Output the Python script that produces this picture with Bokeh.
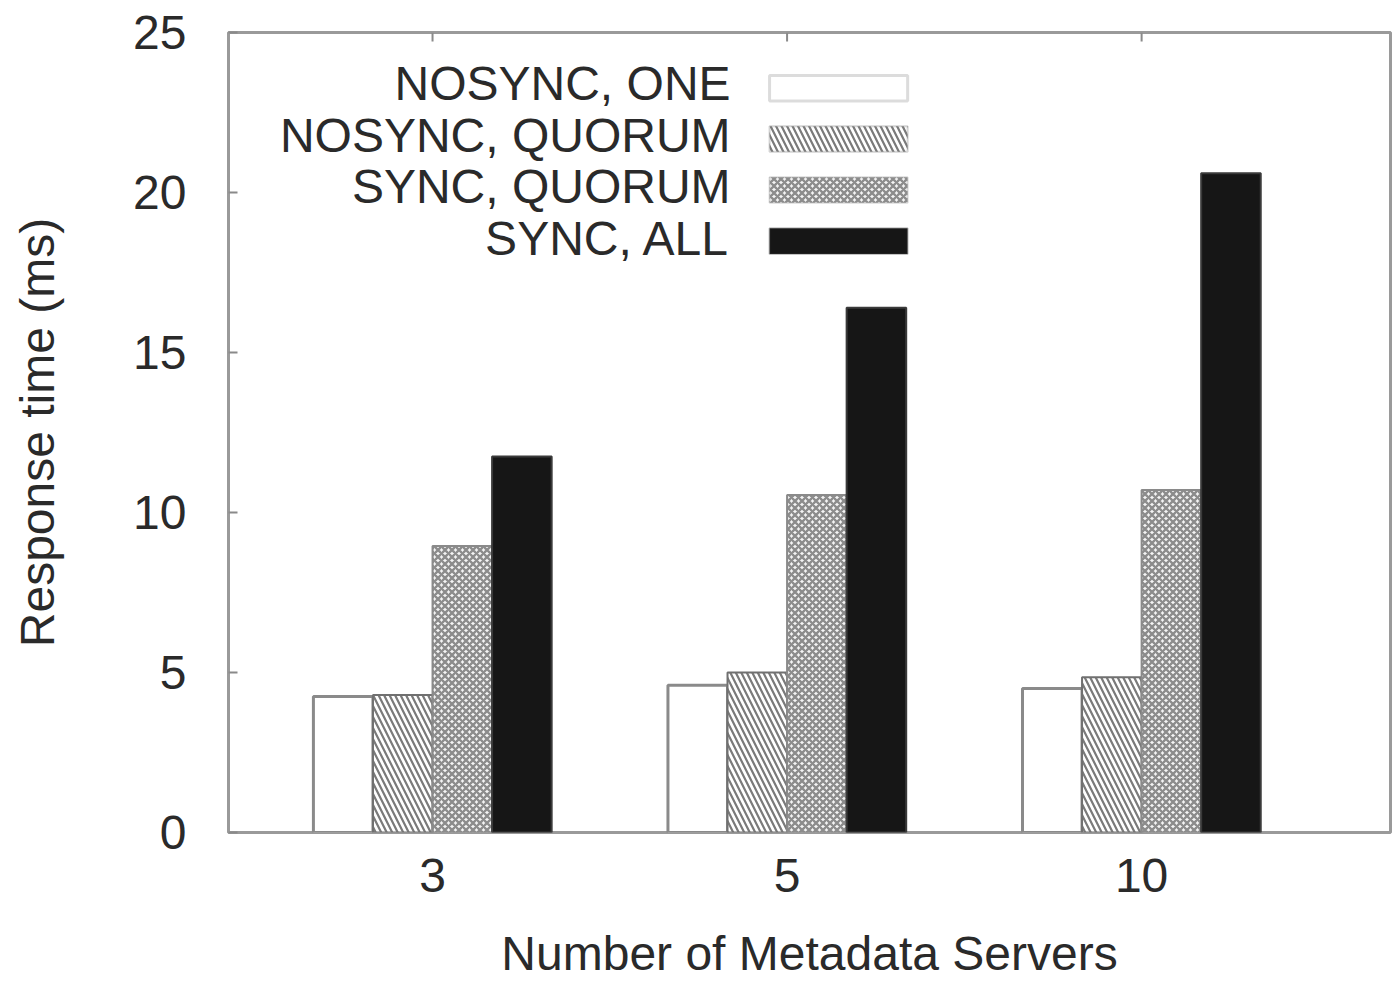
from bokeh.plotting import figure
from bokeh.models import Range1d, FixedTicker, Label, BoxAnnotation
from bokeh.embed import file_html
from bokeh.resources import INLINE

# ---- data ----
servers = ["3", "5", "10"]
series_names = ["NOSYNC, ONE", "NOSYNC, QUORUM", "SYNC, QUORUM", "SYNC, ALL"]
nosync_one = [4.25, 4.6, 4.5]
nosync_quorum = [4.3, 5.0, 4.85]
sync_quorum = [8.95, 10.55, 10.7]
sync_all = [11.75, 16.4, 20.6]

values = [nosync_one, nosync_quorum, sync_quorum, sync_all]

FONT = "Liberation Sans"
TXT = "#2a2a2a"
FS = "48px"

styles = [
    dict(fill_color="white", line_color="#8a8a8a", line_width=3),
    dict(fill_color="white", line_color="#707070", line_width=2,
         hatch_pattern="left_diagonal_line", hatch_color="#7a7a7a", hatch_scale=11, hatch_weight=2.2),
    dict(fill_color="#f4f4f4", line_color="#8a8a8a", line_width=2,
         hatch_pattern="diagonal_cross", hatch_color="#8c8c8c", hatch_scale=7, hatch_weight=2.4),
    dict(fill_color="#161616", line_color="#3a3a3a", line_width=2),
]

Y_MAX = 25
p = figure(width=1393, height=982, output_backend="svg", toolbar_location=None,
           x_range=Range1d(-0.5755, 2.702), y_range=Range1d(0, Y_MAX))
p.min_border_left = 228
p.min_border_top = 32
p.min_border_right = 3
p.min_border_bottom = 142

p.outline_line_color = "#9a9a9a"
p.outline_line_width = 3
p.xgrid.visible = False
p.ygrid.visible = False
p.background_fill_color = "white"
p.border_fill_color = "white"

w = 0.168
xs = list(range(len(servers)))
for i, (vals, st) in enumerate(zip(values, styles)):
    off = (i - 1.5) * w
    p.vbar(x=[x + off for x in xs], top=vals, bottom=0, width=w, **st)

# mirrored tick marks along the top edge
p.segment(x0=xs, y0=[Y_MAX] * len(xs), x1=xs, y1=[Y_MAX - 0.28] * len(xs),
          line_color="#8a8a8a", line_width=2)

# axes
p.xaxis.ticker = FixedTicker(ticks=xs)
p.xaxis.major_label_overrides = {i: s for i, s in enumerate(servers)}
p.yaxis.ticker = FixedTicker(ticks=[0, 5, 10, 15, 20, 25])
for ax in (p.xaxis[0], p.yaxis[0]):
    ax.axis_line_color = None
    ax.major_tick_in = 9
    ax.major_tick_out = 0
    ax.major_tick_line_color = "#8a8a8a"
    ax.major_tick_line_width = 2
    ax.minor_tick_line_color = None
    ax.major_label_text_font = FONT
    ax.major_label_text_font_size = FS
    ax.major_label_text_color = TXT
    ax.axis_label_text_font = FONT
    ax.axis_label_text_font_size = FS
    ax.axis_label_text_font_style = "normal"
    ax.axis_label_text_color = TXT

p.xaxis.axis_label = "Number of Metadata Servers"
p.yaxis.axis_label = "Response time (ms)"
p.xaxis.major_label_standoff = 26
p.xaxis.axis_label_standoff = 32
p.yaxis.major_label_standoff = 42
p.yaxis.axis_label_standoff = 66

# legend (label on the left, swatch on the right)
text_right = 0.8406
sw_left, sw_right = 0.9506, 1.340
row_base = [23.40, 21.79, 20.18, 18.57]
row_center = [23.26, 21.67, 20.08, 18.48]
half = 0.40
for name, st, yb, yc in zip(series_names, styles, row_base, row_center):
    p.add_layout(Label(x=text_right, y=yb, text=name, text_align="right",
                       text_baseline="alphabetic", text_font=FONT,
                       text_font_size=FS, text_color=TXT))
    p.add_layout(BoxAnnotation(left=sw_left, right=sw_right, bottom=yc - half, top=yc + half,
                               fill_alpha=1.0, **st))

open("out.html", "w").write(file_html(p, INLINE))
